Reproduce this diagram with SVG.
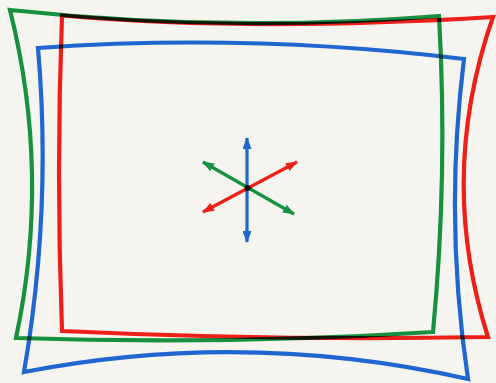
<svg xmlns="http://www.w3.org/2000/svg" width="496" height="383" viewBox="0 0 496 383">
  <style>
    .frame { fill: none; stroke-width: 4.2; stroke-linejoin: miter; mix-blend-mode: multiply; }
    .g { stroke: #17913f; }
    .r { stroke: #ec2019; }
    .b { stroke: #1f66d1; }
    .arr { stroke-width: 3.2; fill: none; mix-blend-mode: multiply; }
  </style>
  <defs>
    <marker id="mg" viewBox="0 0 12 9" refX="11" refY="4.5" markerWidth="12" markerHeight="9" markerUnits="userSpaceOnUse" orient="auto-start-reverse">
      <path d="M0,0 L12,4.5 L0,9 Z" fill="#17913f"/>
    </marker>
    <marker id="mr" viewBox="0 0 12 9" refX="11" refY="4.5" markerWidth="12" markerHeight="9" markerUnits="userSpaceOnUse" orient="auto-start-reverse">
      <path d="M0,0 L12,4.5 L0,9 Z" fill="#ec2019"/>
    </marker>
    <marker id="mb" viewBox="0 0 12 9" refX="11" refY="4.5" markerWidth="12" markerHeight="9" markerUnits="userSpaceOnUse" orient="auto-start-reverse">
      <path d="M0,0 L12,4.5 L0,9 Z" fill="#1f66d1"/>
    </marker>
  </defs>
  <rect width="496" height="383" fill="#f6f4ef"/>
  <g id="frames" style="isolation:isolate">
    <g id="green-frame">
      <path class="frame g" d="M10,10 Q225,33 439,16 Q448,174 433,332 Q225,345 16,338 Q51,174 10,10 Z"/>
    </g>
    <g id="red-frame">
      <path class="frame r" d="M62,15.5 Q250,32 493,17 Q437,177 488,337 Q275,341 62,331 Q56,173 62,15.5 Z"/>
    </g>
    <g id="blue-frame">
      <path class="frame b" d="M38,48 Q251,33 464,59 Q444,219 468,379 Q246,329 24,372 Q52,210 38,48 Z"/>
    </g>
  </g>
  <g id="connectors" style="isolation:isolate">
    <line class="arr" x1="247" y1="138" x2="247" y2="242" stroke="#1f66d1" marker-start="url(#mb)" marker-end="url(#mb)"/>
    <line class="arr" x1="203" y1="162" x2="294" y2="214" stroke="#17913f" marker-start="url(#mg)" marker-end="url(#mg)"/>
    <line class="arr" x1="203" y1="212" x2="297" y2="162" stroke="#ec2019" marker-start="url(#mr)" marker-end="url(#mr)"/>
    <circle cx="247.5" cy="188" r="3" fill="#111"/>
  </g>
</svg>
